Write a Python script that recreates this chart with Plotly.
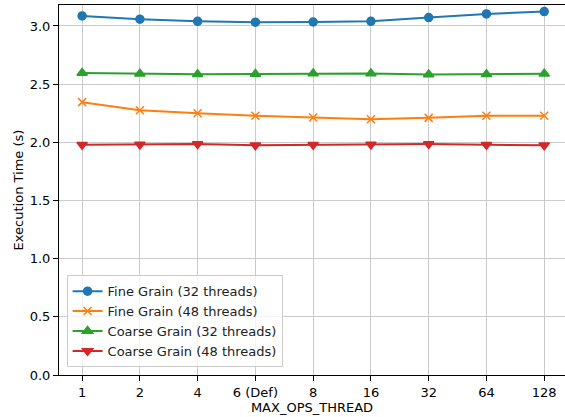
import plotly.graph_objects as go

# MAX_OPS_THREAD settings (categorical axis)
ops_labels = ["1", "2", "4", "6 (Def)", "8", "16", "32", "64", "128"]

# Execution time in seconds
fine_32 = [3.086, 3.058, 3.040, 3.032, 3.034, 3.040, 3.072, 3.103, 3.124]
fine_48 = [2.345, 2.276, 2.250, 2.228, 2.213, 2.198, 2.210, 2.228, 2.228]
coarse_32 = [2.595, 2.590, 2.584, 2.587, 2.592, 2.592, 2.582, 2.584, 2.590]
coarse_48 = [1.978, 1.980, 1.985, 1.975, 1.978, 1.980, 1.985, 1.978, 1.975]

series = [
    ("Fine Grain (32 threads)", fine_32, "#1f77b4", "circle", 8),
    ("Fine Grain (48 threads)", fine_48, "#ff7f0e", "x-thin", 8),
    ("Coarse Grain (32 threads)", coarse_32, "#2ca02c", "triangle-up", 9),
    ("Coarse Grain (48 threads)", coarse_48, "#d62728", "triangle-down", 9),
]

x_idx = list(range(len(ops_labels)))

fig = go.Figure()
for name, vals, color, symbol, size in series:
    fig.add_trace(go.Scatter(
        x=x_idx, y=vals, name=name, mode="lines+markers",
        line=dict(color=color, width=2),
        marker=dict(symbol=symbol, size=size, color=color,
                    line=dict(color=color, width=1.5)),
    ))

font = dict(family="DejaVu Sans", size=13, color="black")

fig.update_layout(
    width=565, height=417,
    margin=dict(l=59, r=0, t=5, b=42),
    paper_bgcolor="white", plot_bgcolor="white",
    font=font,
    showlegend=True,
    legend=dict(
        x=0.015, y=0.021, xanchor="left", yanchor="bottom",
        bgcolor="rgba(255,255,255,0.8)", bordercolor="#cccccc", borderwidth=1,
        font=dict(family="DejaVu Sans", size=13, color="#222"),
        tracegroupgap=0, itemwidth=30,
    ),
)

fig.update_xaxes(
    range=[-0.4, 8.36],
    tickmode="array", tickvals=x_idx, ticktext=ops_labels,
    showgrid=True, gridcolor="#cbcbcb", gridwidth=1,
    showline=True, linecolor="black", linewidth=1, mirror=True,
    ticks="outside", ticklen=5, tickcolor="black",
    zeroline=False,
    title=dict(text="MAX_OPS_THREAD", font=font, standoff=2),
)
fig.update_yaxes(
    range=[0, 3.18],
    tickvals=[0, 0.5, 1.0, 1.5, 2.0, 2.5, 3.0],
    ticktext=["0.0", "0.5", "1.0", "1.5", "2.0", "2.5", "3.0"],
    showgrid=True, gridcolor="#cbcbcb", gridwidth=1,
    showline=True, linecolor="black", linewidth=1,
    ticks="outside", ticklen=5, tickcolor="black",
    zeroline=False,
    title=dict(text="Execution Time (s)", font=font, standoff=3),
)

fig.write_html("out.html")
